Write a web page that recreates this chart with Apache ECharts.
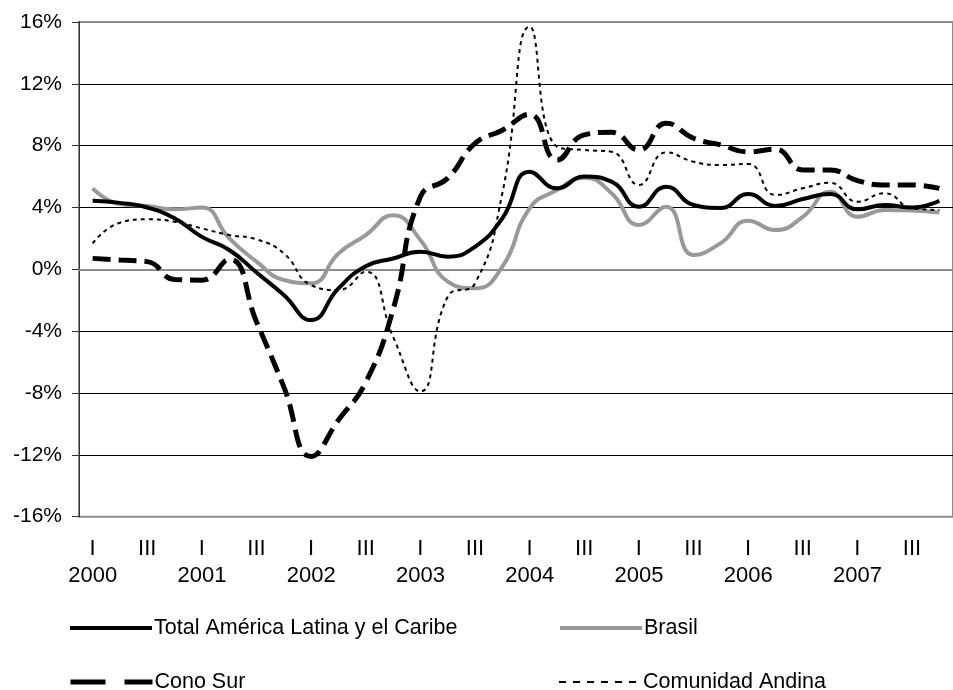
<!DOCTYPE html>
<html>
<head>
<meta charset="utf-8">
<script src="https://cdn.jsdelivr.net/npm/echarts@6/dist/echarts.min.js"></script>
<style>html,body{margin:0;padding:0;background:#fff}#c{width:953px;height:690px}</style>
</head>
<body>
<div id="c"></div>
<script>
const years = ['2000','2001','2002','2003','2004','2005','2006','2007'];
const quarters = ['I','II','III','IV'];
const quarterTickLabels = ['I','','III',''];
const categories = years.flatMap(y => quarters.map(q => y + ' ' + q));

const totalAL = [4.44,4.3,4.0,3.3,2.1,1.25,-0.2,-1.66,-3.28,-1.23,0.2,0.7,1.14,0.82,1.46,3.3,6.32,5.24,6.0,5.67,4.05,5.35,4.16,3.97,4.87,4.1,4.55,4.87,3.88,4.16,4.0,4.44];
const brasil = [5.24,4.23,4.1,3.88,4.0,2.0,0.5,-0.69,-0.9,1.03,2.22,3.5,1.9,-0.8,-1.23,0.17,3.95,5.13,5.93,4.92,2.87,4.05,0.93,1.7,3.15,2.54,3.4,5.02,3.4,3.84,3.8,3.67];
const conoSur = [0.71,0.6,0.5,-0.65,-0.7,0.65,-3.4,-7.6,-12.1,-9.75,-7.3,-2.6,4.7,5.9,8.15,9.0,10.03,7.07,8.7,8.87,7.72,9.45,8.48,8.05,7.6,7.77,6.43,6.43,5.74,5.46,5.46,5.24];
const comunidadAndina = [1.68,3.02,3.24,3.08,2.65,2.22,1.94,1.03,-1.02,-1.34,-0.15,-4.36,-7.9,-1.77,-0.9,4.92,15.7,7.94,7.72,7.61,5.46,7.57,6.96,6.75,6.82,4.81,5.24,5.6,4.38,4.92,3.95,3.84];

const names = ['Total América Latina y el Caribe','Brasil','Cono Sur','Comunidad Andina'];
const FONT = "'Liberation Sans', Arial, sans-serif";

const chart = echarts.init(document.getElementById('c'), null, {renderer:'canvas'});

function legendAt(name, left, top, lineStyle) {
  return {
    data: [{name: name}],
    left: left, top: top,
    padding: 0,
    itemWidth: 82, itemHeight: 14,
    selectedMode: false,
    lineStyle: lineStyle,
    itemStyle: {color: 'rgba(0,0,0,0)', borderWidth: 0, opacity: 0},
    textStyle: {fontSize: 21.5, color: '#000', fontFamily: FONT, padding: [0,0,0,-3]}
  };
}

const option = {
  animation: false,
  textStyle: {fontFamily: FONT},
  grid: {left: 79, top: 22, width: 885, height: 494.7, show: true, borderColor: '#8c8c8c', borderWidth: 2, containLabel: false},
  legend: [
    legendAt(names[0], 68, 617, {color:'#000', width:4, type:'solid'}),
    legendAt(names[1], 558, 617, {color:'#999', width:4, type:'solid'}),
    legendAt(names[2], 68, 671, {color:'#000', width:5, type:[35,19]}),
    legendAt(names[3], 558, 671, {color:'#000', width:2, type:[7,7]})
  ],
  xAxis: {
    type: 'category',
    data: categories,
    boundaryGap: true,
    axisLine: {show: true, lineStyle: {color: '#8c8c8c', width: 2}},
    axisTick: {show: false},
    splitLine: {show: false},
    axisLabel: {
      interval: 0,
      fontSize: 22, lineHeight: 27.5, color: '#000', margin: 18, fontFamily: FONT,
      formatter: function (v, i) {
        const q = i % 4;
        const lbl = quarterTickLabels[q];
        if (q === 0) return lbl + '\n' + years[Math.floor(i / 4)];
        return lbl;
      }
    }
  },
  yAxis: {
    type: 'value', min: -16, max: 16, interval: 4,
    axisLine: {show: true, lineStyle: {color: '#333', width: 1}},
    axisTick: {show: true, length: 7, lineStyle: {color: '#333', width: 1}},
    splitLine: {show: true, showMinLine: false, showMaxLine: false, lineStyle: {color: '#000', width: 1}},
    axisLabel: {formatter: v => v + '%', fontSize: 21, color: '#000', margin: 17, fontFamily: FONT}
  },
  series: [
    {name: names[1], type: 'line', data: brasil, smooth: 0.5, symbol: 'none', lineStyle: {color: '#999', width: 4}, itemStyle: {color: '#999'}, z: 2},
    {name: names[3], type: 'line', data: comunidadAndina, smooth: 0.5, symbol: 'none', lineStyle: {color: '#000', width: 2, type: [4,4]}, itemStyle: {color: '#000'}, z: 3},
    {name: names[0], type: 'line', data: totalAL, smooth: 0.5, symbol: 'none', lineStyle: {color: '#000', width: 4}, itemStyle: {color: '#000'}, z: 4},
    {name: names[2], type: 'line', data: conoSur, smooth: 0.5, symbol: 'none', lineStyle: {color: '#000', width: 5, type: [18,8]}, itemStyle: {color: '#000'}, z: 5}
  ]
};
chart.setOption(option);
</script>
</body>
</html>
